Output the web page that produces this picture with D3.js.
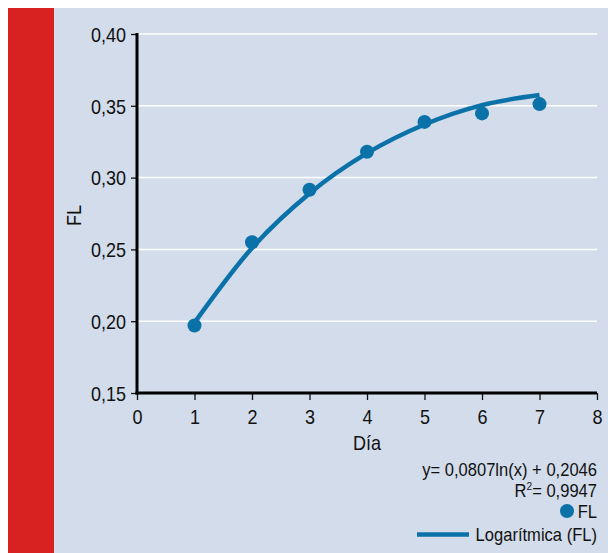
<!DOCTYPE html>
<html>
<head>
<meta charset="utf-8">
<script src="https://cdn.jsdelivr.net/npm/d3@7"></script>
<style>
  body { margin: 0; background: #fff; }
  svg text { font-family: "Liberation Sans", Arial, sans-serif; fill: #111; }
</style>
</head>
<body>
<svg width="608" height="553"></svg>
<script>
// measured points (Día, FL)
const dias = [1, 2, 3, 4, 5, 6, 7];
const fl = [0.197, 0.255, 0.2915, 0.318, 0.3388, 0.3447, 0.3512];
// logarithmic trend line
const trendX = [1, 2, 3, 4, 5, 6, 7];
const trendY = [0.199, 0.251, 0.289, 0.317, 0.337, 0.3505, 0.3575];
const xTicks = [0, 1, 2, 3, 4, 5, 6, 7, 8];
const yTicks = [0.15, 0.20, 0.25, 0.30, 0.35, 0.40];
const equation = "y= 0,0807ln(x) + 0,2046";
const r2 = "0,9947";

const blue = "#0b72a9";
const squeeze = 0.9;   // the original uses a condensed face

let svg = d3.select("svg");

// background panel + red band
svg.append("rect").attr("x", 8).attr("y", 8).attr("width", 600).attr("height", 545).attr("fill", "#d2dcea");
svg.append("rect").attr("x", 8).attr("y", 8).attr("width", 46).attr("height", 545).attr("fill", "#d82121");

let x = d3.scaleLinear().domain([0, 8]).range([137, 597]);
let y = d3.scaleLinear().domain([0.15, 0.40]).range([393, 34]);

let fmt = d => d3.format(".2f")(d).replace(".", ",");

// narrow text helper: text drawn at (tx,ty) and squeezed horizontally
function label(parent, tx, ty, str, size, anchor, sx) {
    let t = parent.append("text")
        .attr("transform", `translate(${tx},${ty}) scale(${sx || squeeze},1)`)
        .attr("font-size", size)
        .attr("text-anchor", anchor || "start");
    if (str) t.text(str);
    return t;
}

// gridlines
svg.append("g")
    .selectAll("line")
    .data(yTicks.slice(1))
    .enter().append("line")
    .attr("x1", x(0)).attr("x2", x(8))
    .attr("y1", d => y(d)).attr("y2", d => y(d))
    .attr("stroke", "#fff").attr("stroke-width", 1.5);

// axes
let yAxis = svg.append("g")
    .attr("transform", `translate(${x(0)},0)`)
    .call(d3.axisLeft(y).tickValues(yTicks).tickFormat(fmt).tickSize(6));
let xAxis = svg.append("g")
    .attr("transform", `translate(0,${y(0.15)})`)
    .call(d3.axisBottom(x).tickValues(xTicks).tickFormat(d3.format("d")).tickSize(7).tickPadding(10));

[xAxis, yAxis].forEach(a => {
    a.select(".domain").remove();
    a.selectAll(".tick line").attr("stroke", "#111").attr("stroke-width", 1.3);
    a.selectAll(".tick text").attr("font-size", 20).attr("fill", "#111")
        .attr("transform", `scale(${squeeze},1)`);
});
yAxis.selectAll(".tick text").attr("x", -11 / squeeze).attr("dy", "0.36em");

svg.append("line")
    .attr("x1", x(0)).attr("x2", x(0)).attr("y1", y(0.40) - 1).attr("y2", y(0.15) + 1.5)
    .attr("stroke", "#000").attr("stroke-width", 3);
svg.append("line")
    .attr("x1", x(0) - 1.5).attr("x2", x(8)).attr("y1", y(0.15)).attr("y2", y(0.15))
    .attr("stroke", "#000").attr("stroke-width", 3);

// axis titles
svg.append("text")
    .attr("transform", `translate(81,${(y(0.15) + y(0.40)) / 2 + 2}) rotate(-90) scale(${squeeze},1)`)
    .attr("text-anchor", "middle")
    .attr("font-size", 20)
    .text("FL");
label(svg, x(4), 450, "Día", 20, "middle");

// trend line
let line = d3.line()
    .x((d, i) => x(trendX[i]))
    .y(d => y(d))
    .curve(d3.curveMonotoneX);
svg.append("path")
    .datum(trendY)
    .attr("d", line)
    .attr("fill", "none")
    .attr("stroke", blue)
    .attr("stroke-width", 4.5);

// points
svg.append("g")
    .selectAll("circle")
    .data(fl)
    .enter().append("circle")
    .attr("cx", (d, i) => x(dias[i]))
    .attr("cy", d => y(d))
    .attr("r", 7)
    .attr("fill", blue);

// legend
let lg = svg.append("g");
label(lg, 597, 476, equation, 18, "end", 0.92);
let r2t = label(lg, 597, 497, null, 18, "end", 0.92);
r2t.append("tspan").text("R");
r2t.append("tspan").attr("font-size", 11).attr("dy", -7).text("2");
r2t.append("tspan").attr("dy", 7).text("= " + r2);
lg.append("circle").attr("cx", 567).attr("cy", 511).attr("r", 7).attr("fill", blue);
label(lg, 597, 518, "FL", 18, "end", 0.92);
lg.append("line").attr("x1", 417).attr("x2", 469).attr("y1", 534.5).attr("y2", 534.5)
    .attr("stroke", blue).attr("stroke-width", 4.5);
label(lg, 597, 541, "Logarítmica (FL)", 18, "end", 0.92);
</script>
</body>
</html>
